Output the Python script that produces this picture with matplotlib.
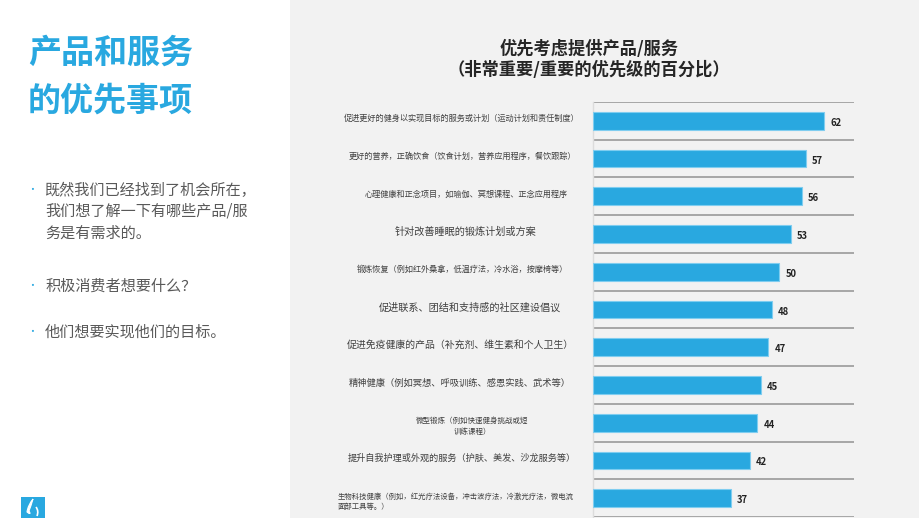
import matplotlib
matplotlib.use("Agg")
import matplotlib.pyplot as plt
from matplotlib.patches import Rectangle, PathPatch
from matplotlib.path import Path
from matplotlib.transforms import blended_transform_factory

plt.rcParams['font.family'] = ['Noto Sans CJK SC', 'DejaVu Sans']

# data
categories = [
    "促进更好的健身以实现目标的服务或计划（运动计划和责任制度）",
    "更好的营养，正确饮食（饮食计划，营养应用程序，餐饮跟踪）",
    "心理健康和正念项目，如瑜伽、冥想课程、正念应用程序",
    "针对改善睡眠的锻炼计划或方案",
    "锻炼恢复（例如红外桑拿，低温疗法，冷水浴，按摩椅等）",
    "促进联系、团结和支持感的社区建设倡议",
    "促进免疫健康的产品（补充剂、维生素和个人卫生）",
    "精神健康（例如冥想、呼吸训练、感恩实践、武术等）",
    "微型锻炼（例如快速健身挑战或短\n训练课程）",
    "提升自我护理或外观的服务（护肤、美发、沙龙服务等）",
    "生物科技健康（例如，红光疗法设备，冲击波疗法，冷激光疗法，微电流\n面部工具等。）",
]
values = [62, 57, 56, 53, 50, 48, 47, 45, 44, 42, 37]

chart_title = "优先考虑提供产品/服务\n（非常重要/重要的优先级的百分比）"
page_title = ["产品和服务", "的优先事项"]
bullets = [
    ["既然我们已经找到了机会所在，", "我们想了解一下有哪些产品/服", "务是有需求的。"],
    ["积极消费者想要什么？"],
    ["他们想要实现他们的目标。"],
]

# label styling (font size per row, horizontal centre in px, multi-line alignment)
label_sizes = [5.9, 5.9, 5.9, 7.3, 5.9, 7.3, 7.1, 6.7, 5.4, 6.6, 5.3]
label_cx = [462, 462, 466, 466, 462, 470, 460, 460, 472, 462, 456]
label_align = ["center"] * 10 + ["left"]

BLUE = "#29a8e0"
W, H = 920, 518

fig = plt.figure(figsize=(W / 100, H / 100), dpi=100)
fig.patch.set_facecolor("white")

# grey right panel (behind the axes)
fig.patches.append(Rectangle((290 / W, 0), 1 - 290 / W, 1, transform=fig.transFigure,
                             facecolor="#f2f2f2", edgecolor="none", zorder=-5))

ax = fig.add_axes([593 / W, 1 / H, 261 / W, 415 / H])
ax.set_zorder(2)
ax.set_facecolor("none")
ypos = list(range(len(values)))
ax.barh(ypos, values, height=0.47, color=BLUE, edgecolor="#7fcdf0", linewidth=0.8, zorder=3)
for y, v in zip(ypos, values):
    ax.annotate(str(v), (v, y), xytext=(4.5, -1.5), textcoords="offset points",
                ha="left", va="center", fontsize=6.8, fontweight="bold", color="#222222")

# row separators
for k in range(len(values) + 1):
    ax.axhline(k - 0.5, color="#9a9a9a", lw=1.2, zorder=2)

ax.set_xlim(0, 70)
ax.set_ylim(len(values) - 0.5, -0.5)
ax.set_xticks([])
ax.set_yticks([])
for side in ["top", "right", "bottom"]:
    ax.spines[side].set_visible(False)
ax.spines["left"].set_color("#dcdcdc")
ax.spines["left"].set_linewidth(1)

# category labels
tr = blended_transform_factory(fig.transFigure, ax.transData)
for y, lab, fs, cx, al in zip(ypos, categories, label_sizes, label_cx, label_align):
    dy = 0.1 if "\n" in lab else -0.06
    ax.text(cx / W, y + dy, lab, transform=tr, ha="center", va="center",
            fontsize=fs, color="#404040", multialignment=al, linespacing=1.45, clip_on=False)

# chart title
fig.text(589 / W, 1 - 59 / H, chart_title, ha="center", va="center", fontsize=12.4,
         fontweight="bold", color="#262626", linespacing=1.2)

# left panel text
for i, line in enumerate(page_title):
    fig.text(28 / W, 1 - (53 + 48 * i) / H, line, ha="left", va="center", fontsize=23.8,
             fontweight="bold", color=BLUE)

bullet_y = [190, 286, 332]
for by, lines in zip(bullet_y, bullets):
    fig.text(32 / W, 1 - by / H, "·", ha="center", va="center", fontsize=7, color=BLUE)
    for j, line in enumerate(lines):
        fig.text(45 / W, 1 - (by + 21.5 * j) / H, line, ha="left", va="center",
                 fontsize=10.9, color="#595959")

# small logo in the corner
fig.patches.append(Rectangle((21 / W, 0), 24 / W, 21 / H, transform=fig.transFigure,
                             facecolor=BLUE, edgecolor="none", zorder=5))
flame = Path([(33, 499), (28, 505), (27, 512), (32, 516), (29, 511), (31, 506), (33, 499)],
             [Path.MOVETO, Path.CURVE3, Path.CURVE3, Path.CURVE3, Path.CURVE3, Path.CURVE3, Path.CURVE3])
flame_fig = Path([(x / W, 1 - y / H) for x, y in flame.vertices], flame.codes)
fig.patches.append(PathPatch(flame_fig, transform=fig.transFigure, facecolor="white",
                             edgecolor="white", lw=0.8, zorder=6))
flame2 = Path([(36, 507), (39, 511), (37, 516)], [Path.MOVETO, Path.CURVE3, Path.CURVE3])
flame2_fig = Path([(x / W, 1 - y / H) for x, y in flame2.vertices], flame2.codes)
fig.patches.append(PathPatch(flame2_fig, transform=fig.transFigure, facecolor="none",
                             edgecolor="white", lw=1.2, zorder=6))

fig.savefig("out.png", dpi=100, facecolor=fig.get_facecolor())
